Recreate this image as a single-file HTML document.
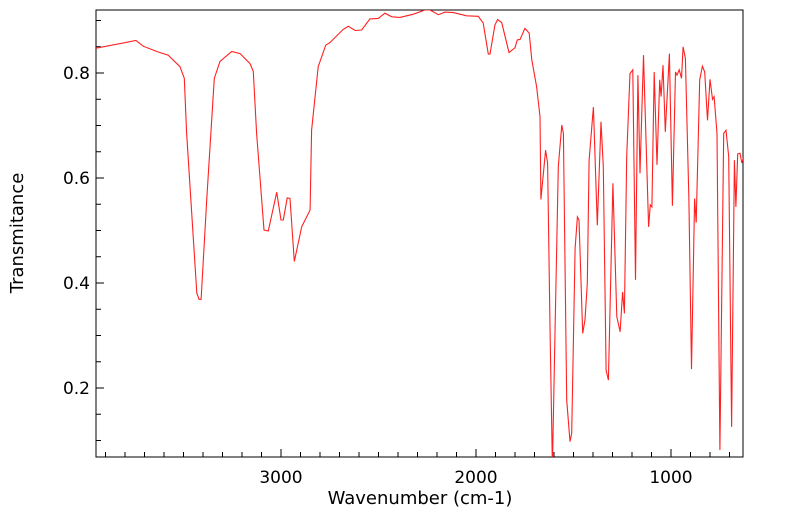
<!DOCTYPE html>
<html><head><meta charset="utf-8"><style>
body{margin:0;background:#fff;}
svg{display:block;font-family:"DejaVu Sans","Liberation Sans",sans-serif;}
</style></head><body>
<svg width="799" height="516">
<defs><clipPath id="pc"><rect x="96" y="10" width="647" height="447"/></clipPath></defs>
<rect x="96" y="10" width="647" height="447" fill="none" stroke="#000" stroke-width="1"/>
<g id="ticks"></g>
<g id="labels"></g>
<polyline id="spec" clip-path="url(#pc)" fill="none" stroke="#ff2020" stroke-width="1.1"/>
<text x="420" y="504" font-size="18" text-anchor="middle">Wavenumber (cm-1)</text>
<text transform="translate(23,233) rotate(-90)" font-size="18" text-anchor="middle">Transmitance</text>
</svg>
<script>
const wavenumbers=[3952,3744,3706,3637,3578,3518,3496,3484,3432,3420,3410,3381,3342,3313,3253,3210,3159,3142,3125,3087,3065,3022,3000,2988,2968,2954,2932,2894,2851,2843,2809,2771,2749,2681,2655,2620,2586,2544,2501,2467,2432,2390,2321,2262,2236,2193,2159,2116,2048,1988,1963,1937,1928,1903,1889,1868,1831,1800,1788,1774,1749,1727,1714,1689,1672,1667,1643,1633,1620,1608,1595,1578,1560,1552,1535,1518,1509,1492,1480,1472,1453,1441,1429,1420,1398,1378,1359,1347,1333,1321,1298,1278,1261,1248,1239,1227,1210,1196,1182,1170,1159,1141,1115,1106,1098,1086,1072,1058,1051,1041,1029,1008,993,977,969,958,946,938,926,908,895,879,871,853,839,827,813,800,787,779,764,749,730,718,704,689,675,667,658,646,637,627];
const transmittance=[0.847,0.862,0.851,0.841,0.834,0.812,0.790,0.686,0.381,0.369,0.369,0.558,0.790,0.822,0.841,0.837,0.818,0.803,0.685,0.501,0.499,0.573,0.520,0.520,0.562,0.561,0.441,0.507,0.539,0.691,0.812,0.853,0.858,0.883,0.889,0.881,0.882,0.903,0.904,0.914,0.907,0.906,0.912,0.920,0.920,0.911,0.916,0.915,0.909,0.908,0.895,0.836,0.836,0.891,0.902,0.896,0.839,0.848,0.863,0.864,0.885,0.876,0.825,0.774,0.717,0.559,0.653,0.628,0.305,0.05,0.305,0.622,0.701,0.685,0.177,0.098,0.114,0.466,0.526,0.520,0.304,0.330,0.399,0.634,0.735,0.510,0.707,0.622,0.234,0.215,0.590,0.336,0.307,0.383,0.342,0.641,0.799,0.806,0.406,0.796,0.609,0.834,0.507,0.549,0.545,0.802,0.625,0.787,0.755,0.815,0.688,0.837,0.547,0.802,0.796,0.806,0.790,0.850,0.828,0.558,0.236,0.561,0.515,0.787,0.813,0.802,0.710,0.788,0.750,0.755,0.685,0.082,0.685,0.691,0.641,0.126,0.634,0.545,0.646,0.647,0.629,0.641];
const xTickLabels=[3000,2000,1000];
const yTickLabels=[0.2,0.4,0.6,0.8];
const X=w=>281+(3000-w)*0.195;
const Y=t=>73+(0.8-t)*525;
const NS='http://www.w3.org/2000/svg';
const sp=document.getElementById('spec');
sp.setAttribute('points',wavenumbers.map((w,i)=>X(w).toFixed(1)+','+Y(transmittance[i]).toFixed(1)).join(' '));
const tg=document.getElementById('ticks'),lg=document.getElementById('labels');
function line(x1,y1,x2,y2){const l=document.createElementNS(NS,'line');l.setAttribute('x1',x1);l.setAttribute('y1',y1);l.setAttribute('x2',x2);l.setAttribute('y2',y2);l.setAttribute('stroke','#000');


tg.appendChild(l);}
for(let w=3900;w>=700;w-=100){const x=X(w);const major=w%1000===0;line(x,457,x,457-(major?8:5));}
for(let k=2;k<=18;k++){const t=k*0.05;const y=Y(t);if(y<10||y>457)continue;const major=k%4===0;line(96,y,96+(major?8:5),y);}
function txt(x,y,s,anchor){const e=document.createElementNS(NS,'text');e.setAttribute('x',x);e.setAttribute('y',y);e.setAttribute('font-size','17');e.setAttribute('text-anchor',anchor);e.textContent=s;


lg.appendChild(e);}
xTickLabels.forEach(w=>txt(X(w),483,String(w),'middle'));
yTickLabels.forEach(t=>txt(90,Y(t)+6,t.toFixed(1),'end'));
</script>
</body></html>
